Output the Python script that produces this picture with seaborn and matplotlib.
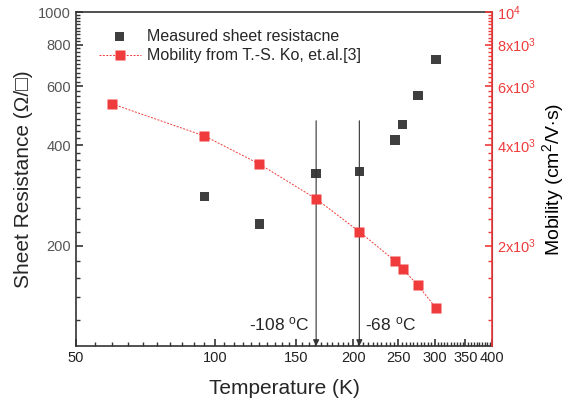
import numpy as np
import pandas as pd
import matplotlib
matplotlib.use("Agg")
import matplotlib.pyplot as plt
from matplotlib.ticker import FixedLocator, NullFormatter, FixedFormatter
import seaborn as sns

# --- data ---
temp_r = [95, 125, 166, 206, 246, 256, 276, 302]
sheet_res = [280, 232, 329, 334, 414, 461, 564, 723]
temp_mu = [60, 95, 125, 166, 206, 246, 256, 276, 302]
mobility = [5310, 4260, 3510, 2760, 2200, 1800, 1700, 1520, 1300]
x_ticks = [50, 100, 150, 200, 250, 300, 350, 400]
y_ticks = [200, 400, 600, 800, 1000]
y2_ticks = [2000, 4000, 6000, 8000, 10000]
y2_labels = [r"2x10$^3$", r"4x10$^3$", r"6x10$^3$", r"8x10$^3$", r"10$^4$"]
marks = [166, 206]
mark_labels = [r"-108 $^{\rm o}$C", r"-68 $^{\rm o}$C"]

sns.set_style("ticks")
plt.rcParams['font.family'] = ['Liberation Sans', 'DejaVu Sans']
plt.rcParams['mathtext.fontset'] = 'custom'
plt.rcParams['mathtext.rm'] = 'Liberation Sans'
plt.rcParams['mathtext.it'] = 'Liberation Sans'

RED = "#ef3b3b"
BLK = "#3f3f3f"

fig = plt.figure(figsize=(5.67, 4.04), dpi=100)
ax = fig.add_axes([0.134, 0.1436, 0.734, 0.826])
ax2 = ax.twinx()

df_r = pd.DataFrame({"T": temp_r, "R": sheet_res})
df_m = pd.DataFrame({"T": temp_mu, "mu": mobility})

sns.scatterplot(data=df_r, x="T", y="R", ax=ax, marker="s", s=45, color=BLK,
                edgecolor="none", label="Measured sheet resistacne", legend=False, zorder=3)
sns.lineplot(data=df_m, x="T", y="mu", ax=ax2, marker="s", markersize=6.5, color=RED,
             markeredgecolor="none", linestyle=(0, (2, 1.5)), linewidth=0.7,
             label="Mobility from T.-S. Ko, et.al.[3]", legend=False)

ax.set_xscale("log")
ax.set_yscale("log")
ax2.set_yscale("log")
ax.set_xlim(50, 400)
ax.set_ylim(100, 1000)
ax2.set_ylim(1000, 10000)

ax.xaxis.set_major_locator(FixedLocator(x_ticks))
ax.xaxis.set_major_formatter(FixedFormatter([str(v) for v in x_ticks]))
ax.xaxis.set_minor_locator(FixedLocator([v for v in range(55, 400, 5) if v % 50]))
ax.xaxis.set_minor_formatter(NullFormatter())

ax.yaxis.set_major_locator(FixedLocator(y_ticks))
ax.yaxis.set_major_formatter(FixedFormatter([str(v) for v in y_ticks]))
ax.yaxis.set_minor_locator(FixedLocator([v for v in range(120, 1000, 20) if v % 200]))
ax.yaxis.set_minor_formatter(NullFormatter())

ax2.yaxis.set_major_locator(FixedLocator(y2_ticks))
ax2.yaxis.set_major_formatter(FixedFormatter(y2_labels))
ax2.yaxis.set_minor_locator(FixedLocator([v for v in range(1200, 10000, 200) if v % 2000]))
ax2.yaxis.set_minor_formatter(NullFormatter())

ax.tick_params(axis="both", which="major", direction="in", length=5, width=1.2,
               labelsize=10.5, color="#333333")
ax.tick_params(axis="both", which="minor", direction="in", length=3, width=1.0,
               color="#333333")
ax.tick_params(axis="y", which="both", left=True, right=False, labelcolor="#555555")
ax.tick_params(axis="x", which="both", bottom=True, top=False, labelcolor="#222222")
ax2.tick_params(axis="y", which="major", direction="in", length=5, width=1.2,
                color=RED, labelcolor=RED, labelsize=10.5, right=True, left=False)
ax2.tick_params(axis="y", which="minor", direction="in", length=3, width=1.0,
                color=RED, right=True, left=False)

for s in ["left", "bottom", "top"]:
    ax.spines[s].set_color("#333333")
    ax.spines[s].set_linewidth(1.2)
ax2.spines["right"].set_color(RED)
ax2.spines["right"].set_linewidth(1.2)
ax2.spines["top"].set_visible(False)
ax2.spines["left"].set_visible(False)
ax2.spines["bottom"].set_visible(False)

ax.set_xlabel("Temperature (K)", fontsize=15, labelpad=10)
ax.set_ylabel("Sheet Resistance (Ω/□)", fontsize=15, labelpad=4)
ax2.set_ylabel(r"Mobility (cm$^2$/V$\cdot$s)", fontsize=14, labelpad=3, color="black")

# arrows and labels
for t in marks:
    ax.annotate("", xy=(t, 100), xytext=(t, 473),
                arrowprops=dict(arrowstyle="-|>", color="#333333", lw=0.8,
                                mutation_scale=9, shrinkA=0, shrinkB=0))
ax.text(161, 116, mark_labels[0], fontsize=12.5, ha="right", va="center")
ax.text(212, 116, mark_labels[1], fontsize=12.5, ha="left", va="center")

h1, l1 = ax.get_legend_handles_labels()
h2, l2 = ax2.get_legend_handles_labels()
ax.legend(h1 + h2, l1 + l2, loc="upper left", bbox_to_anchor=(0.04, 0.97),
          frameon=False, fontsize=11.5, handlelength=2.6, handletextpad=0.4,
          labelspacing=0.3, borderaxespad=0)

fig.savefig("out.png", dpi=100)
